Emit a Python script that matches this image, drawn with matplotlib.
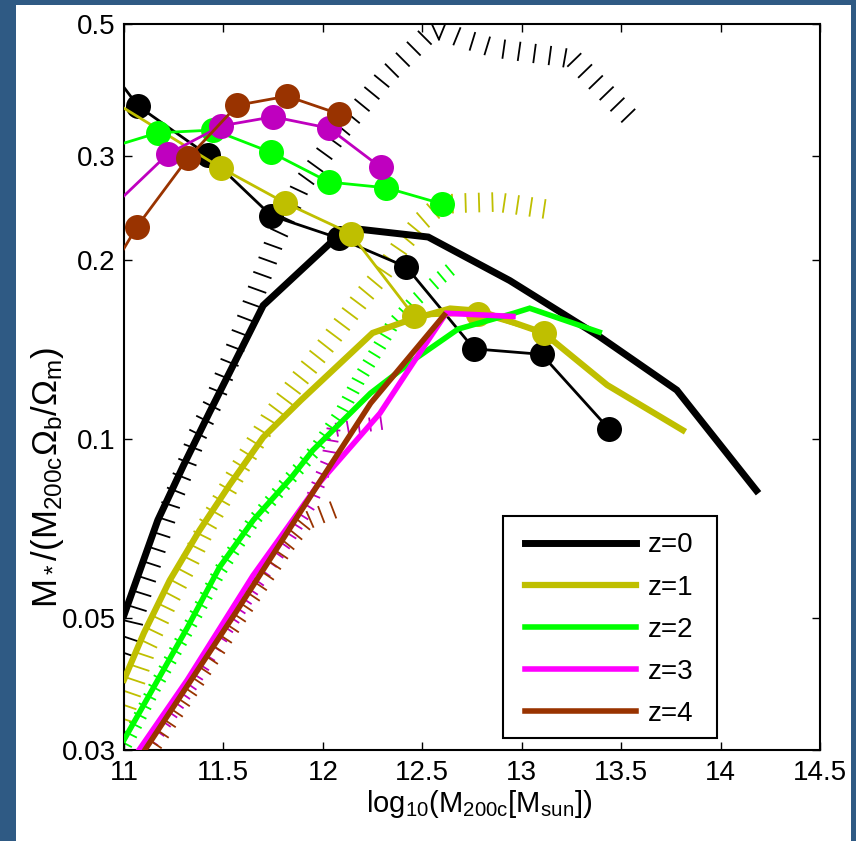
import numpy as np
import matplotlib
matplotlib.use('Agg')
import matplotlib.pyplot as plt
import matplotlib.patheffects as pe
from matplotlib.patches import Rectangle
from matplotlib.ticker import NullLocator, FormatStrFormatter

plt.rcParams['font.family'] = ['Liberation Sans', 'DejaVu Sans']
plt.rcParams['mathtext.fontset'] = 'custom'
plt.rcParams['mathtext.rm'] = 'Liberation Sans'
plt.rcParams['mathtext.it'] = 'Liberation Sans:italic'
plt.rcParams['mathtext.default'] = 'regular'

# model curves (thick lines)
x_z0 = [11.0, 11.17, 11.30, 11.43, 11.70, 12.12, 12.53, 12.94, 13.39, 13.78, 14.18]
y_z0 = [0.0506, 0.0731, 0.0905, 0.111, 0.168, 0.227, 0.219, 0.185, 0.149, 0.121, 0.082]
x_z1 = [11.0, 11.10, 11.23, 11.38, 11.53, 11.70, 11.89, 12.25, 12.44, 12.64, 12.79, 13.11, 13.43, 13.81]
y_z1 = [0.0394, 0.0472, 0.0579, 0.0703, 0.0837, 0.1008, 0.1164, 0.151, 0.159, 0.166, 0.1645, 0.151, 0.1234, 0.1036]
x_z2 = [11.0, 11.15, 11.32, 11.48, 11.65, 11.84, 11.95, 12.24, 12.47, 12.68, 12.96, 13.04, 13.39]
y_z2 = [0.0312, 0.0383, 0.0483, 0.0609, 0.0731, 0.0861, 0.0959, 0.1196, 0.137, 0.1533, 0.163, 0.1662, 0.1515]
x_z3 = [11.045, 11.317, 11.649, 11.985, 12.287, 12.473, 12.62, 12.956]
y_z3 = [0.0290, 0.0393, 0.059, 0.0847, 0.1106, 0.1375, 0.163, 0.161]
x_z4 = [11.07, 11.56, 11.99, 12.24, 12.61]
y_z4 = [0.0288, 0.051, 0.0854, 0.115, 0.1618]

# data points (thin lines with dots)
xd_z0 = [10.82, 11.07, 11.42, 11.74, 12.08, 12.42, 12.76, 13.10, 13.44]
yd_z0 = [0.47, 0.364, 0.301, 0.238, 0.218, 0.195, 0.142, 0.139, 0.104]
xd_z1 = [10.82, 11.49, 11.81, 12.14, 12.46, 12.78, 13.11]
yd_z1 = [0.393, 0.286, 0.250, 0.222, 0.161, 0.1625, 0.151]
xd_z2 = [10.82, 11.17, 11.45, 11.74, 12.03, 12.32, 12.60]
yd_z2 = [0.302, 0.328, 0.3315, 0.304, 0.271, 0.265, 0.249]
xd_z3 = [10.82, 11.22, 11.49, 11.75, 12.03, 12.29]
yd_z3 = [0.225, 0.302, 0.337, 0.349, 0.334, 0.287]
xd_z4 = [10.82, 11.065, 11.32, 11.57, 11.82, 12.08]
yd_z4 = [0.166, 0.228, 0.297, 0.365, 0.378, 0.353]

# hatched upper bounds
xh_z0 = [10.854, 10.96, 10.99, 11.015, 11.065, 11.131, 11.196, 11.266, 11.332, 11.407, 11.508,
         11.598, 11.709, 11.85, 12.05, 12.272, 12.498, 12.589, 12.704, 12.865, 13.041, 13.192,
         13.283, 13.594]
yh_z0 = [0.0364, 0.0441, 0.0472, 0.0512, 0.0579, 0.0677, 0.079, 0.0905, 0.1036, 0.1164, 0.1413,
         0.1695, 0.2148, 0.271, 0.3354, 0.4135, 0.492, 0.508, 0.490, 0.4717, 0.4627, 0.4556,
         0.450, 0.3514]
xh_z1 = [10.92, 10.97, 11.005, 11.08, 11.181, 11.282, 11.382, 11.533, 11.699, 11.85, 12.0,
         12.151, 12.262, 12.352, 12.463, 12.538, 12.624, 12.714, 12.88, 13.051, 13.152]
yh_z1 = [0.0318, 0.0357, 0.0386, 0.0459, 0.054, 0.0626, 0.0731, 0.0898, 0.1107, 0.1293, 0.1498,
         0.175, 0.194, 0.2148, 0.2384, 0.2507, 0.2577, 0.2587, 0.2597, 0.2547, 0.2518]
xh_z2 = [10.97, 11.005, 11.121, 11.292, 11.458, 11.623, 11.81, 11.935, 12.071, 12.151, 12.237,
         12.322, 12.438, 12.574, 12.639]
yh_z2 = [0.0305, 0.0321, 0.0383, 0.0483, 0.0609, 0.0737, 0.0871, 0.097, 0.1129, 0.1268, 0.1413,
         0.1575, 0.1736, 0.1905, 0.1987]
xh_z3 = [11.005, 11.08, 11.317, 11.483, 11.649, 11.784, 11.91, 11.995, 12.026, 12.136, 12.317]
yh_z3 = [0.0277, 0.0302, 0.0393, 0.0481, 0.0584, 0.0677, 0.079, 0.0923, 0.1057, 0.1073, 0.1094]
xh_z4 = [11.03, 11.08, 11.332, 11.558, 11.784, 11.885, 11.975, 12.066]
yh_z4 = [0.0283, 0.030, 0.0401, 0.0522, 0.0677, 0.0746, 0.0769, 0.079]

labels = ['z=0', 'z=1', 'z=2', 'z=3', 'z=4']
line_colors = ['black', '#bfbf00', '#00ff00', '#ff00ff', '#993300']
dot_colors = ['black', '#bfbf00', '#00ff00', '#bf00bf', '#993300']
hatch_colors = ['black', '#bfbf00', '#00ff00', '#bf00bf', '#993300']

fig = plt.figure(figsize=(8.56, 8.41), dpi=100, facecolor='#2f5a84')
fig.add_artist(Rectangle((16 / 856, 0), 835 / 856, 836 / 841, transform=fig.transFigure,
                         facecolor='white', edgecolor='none', zorder=-5))
ax = fig.add_axes([124 / 856, 91 / 841, 696 / 856, 726 / 841])

hatches = [(xh_z0, yh_z0, 11.0, 1.15), (xh_z1, yh_z1, 9.5, 1.35), (xh_z2, yh_z2, 7.5, 1.15),
           (xh_z3, yh_z3, 8.0, 1.1), (xh_z4, yh_z4, 9.0, 1.3)]
for (hx, hy, sp, ln), c in zip(hatches, hatch_colors):
    ax.plot(hx, hy, color=c, lw=1.3, zorder=1,
            path_effects=[pe.TickedStroke(angle=-90, spacing=sp, length=ln)])

models = [(x_z0, y_z0, 5.0), (x_z1, y_z1, 4.5), (x_z2, y_z2, 4.0), (x_z3, y_z3, 4.0), (x_z4, y_z4, 4.0)]
points = [(xd_z0, yd_z0), (xd_z1, yd_z1), (xd_z2, yd_z2), (xd_z3, yd_z3), (xd_z4, yd_z4)]
for i in range(5):
    mx, my, lw = models[i]
    ax.plot(mx, my, color=line_colors[i], lw=lw, label=labels[i], zorder=2 + 2 * i,
            solid_joinstyle='miter')
    px, py = points[i]
    ax.plot(px, py, color=dot_colors[i], lw=2.0, marker='o', markersize=18,
            markeredgewidth=0, zorder=3 + 2 * i)

ax.set_yscale('log')
ax.set_xlim(11, 14.5)
ax.set_ylim(0.03, 0.5)
ax.set_xticks(np.arange(11, 14.51, 0.5))
ax.xaxis.set_major_formatter(FormatStrFormatter('%g'))
ax.set_yticks([0.03, 0.05, 0.1, 0.2, 0.3, 0.5])
ax.set_yticklabels(['0.03', '0.05', '0.1', '0.2', '0.3', '0.5'])
ax.yaxis.set_minor_locator(NullLocator())
ax.tick_params(direction='in', top=True, right=True, length=6, width=1.0, labelsize=20)
ax.tick_params(axis='x', pad=7)
ax.tick_params(axis='y', pad=6)
for s in ax.spines.values():
    s.set_linewidth(1.5)

ax.set_xlabel(r'log$_{10}$(M$_{200c}$[M$_{sun}$])', fontsize=21)
ax.set_ylabel(r'M$_*$/(M$_{200c}$$\Omega_b$/$\Omega_m$)', fontsize=25)
ax.yaxis.set_label_coords(-0.083, 0.375)
ax.xaxis.set_label_coords(0.51, -0.052)

# legend: frameless entries plus a plain box
leg = ax.legend(loc='upper left', bbox_to_anchor=(0.5761, 0.2996), borderaxespad=0,
                fontsize=20, handlelength=4.0, handletextpad=0.43, labelspacing=0.58,
                borderpad=0, frameon=False)
leg.set_zorder(21)
ax.add_patch(Rectangle((0.5445, 0.0165), 0.3075, 0.3058, transform=ax.transAxes,
                       facecolor='white', edgecolor='black', lw=1.5, zorder=20))

fig.savefig('out.png', dpi=100, facecolor=fig.get_facecolor())
